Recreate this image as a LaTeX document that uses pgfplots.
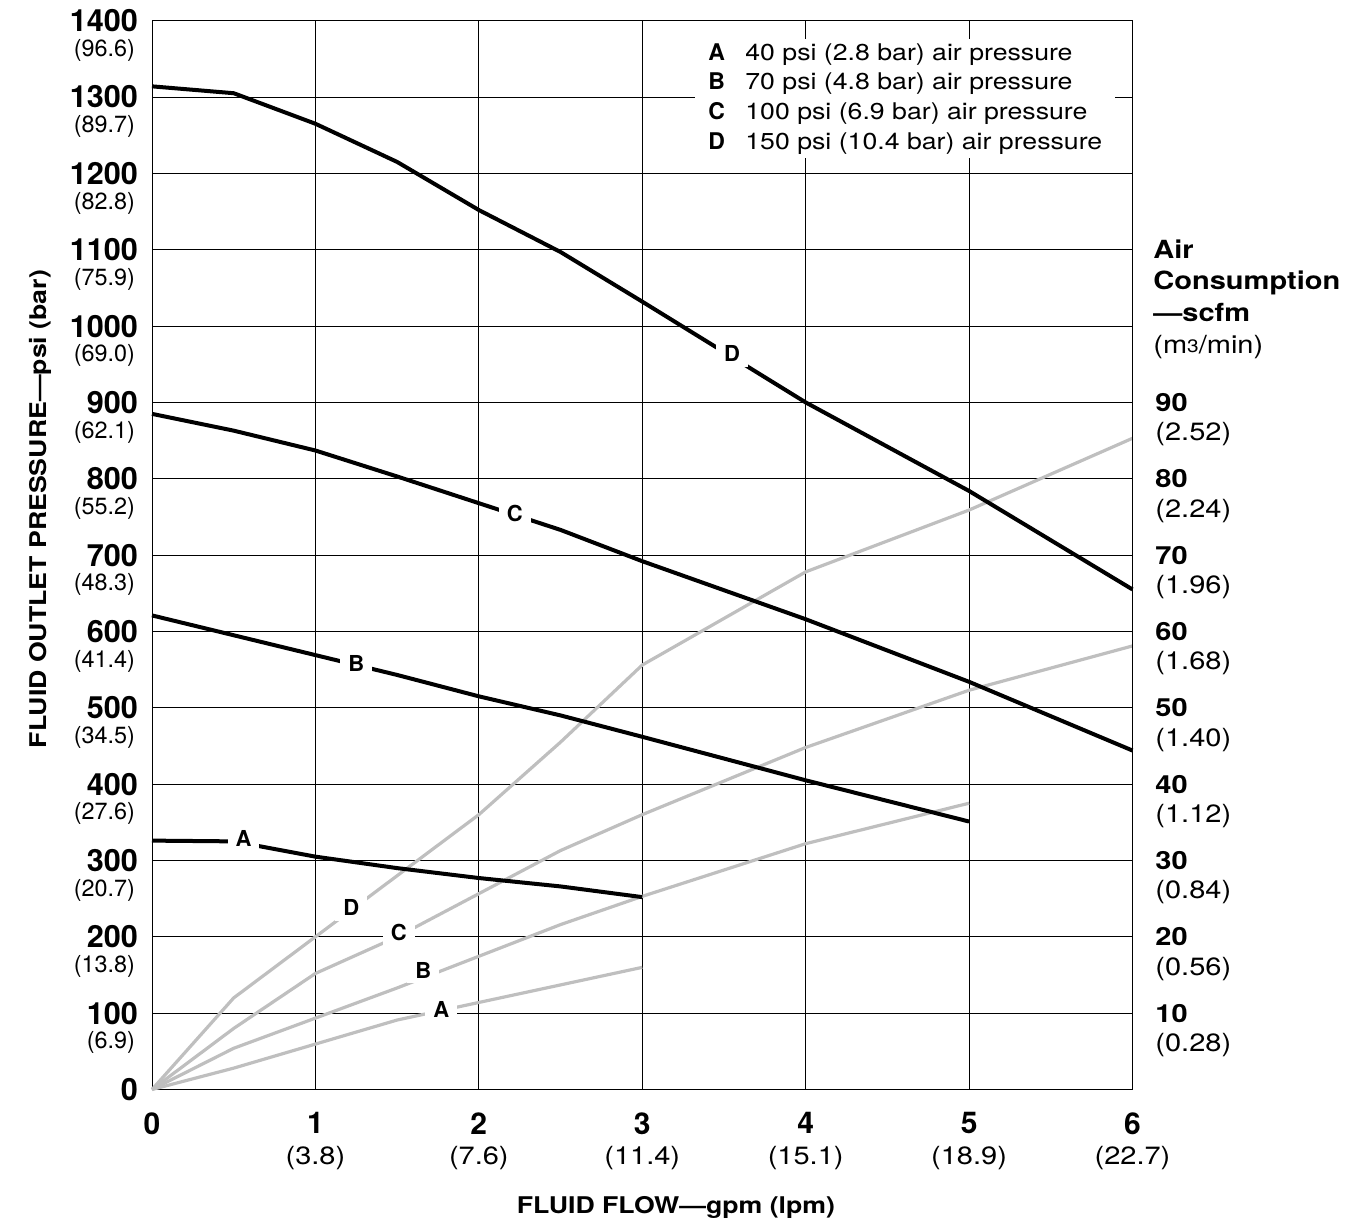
\documentclass[border=0pt]{standalone}
\usepackage{pgfplots}
\usepackage{pgfplotstable}
\pgfplotsset{compat=1.18}
\usepackage{fontspec}
\setmainfont{TeX Gyre Heros}
\newfontfamily\wide[FakeStretch=1.16]{TeX Gyre Heros}
\definecolor{airgray}{rgb}{0.75,0.75,0.75}

% Fluid outlet pressure (psi)
\pgfplotstableread{
x p
0 326
0.5 325
1 305
1.5 290
2 277
2.5 266
3 252
}\presA
\pgfplotstableread{
x p
0 621
0.5 595
1 569
1.5 543
2 515
2.5 490
3 462
4 405
5 351
}\presB
\pgfplotstableread{
x p
0 885
0.5 863
1 837
1.5 803
2 768
2.5 733
3 692
4 616
5 534
6 444
}\presC
\pgfplotstableread{
x p
0 1314
0.5 1305
1 1265
1.5 1215
2 1152
2.5 1097
3 1032
4 900
5 784
6 655
}\presD
% Air consumption (scfm)
\pgfplotstableread{
x q
0 0
0.5 2.8
1.5 9.1
2.5 13.7
3 16.0
}\airA
\pgfplotstableread{
x q
0 0
0.5 5.4
1.5 13.3
2.5 21.6
3 25.3
4 32.2
5 37.5
}\airB
\pgfplotstableread{
x q
0 0
0.5 8.0
1 15.2
1.5 20.0
2.5 31.3
3 36.0
4 44.8
5 52.3
6 58.1
}\airC
\pgfplotstableread{
x q
0 0
0.5 12.0
1 20.0
2 36.0
2.5 45.5
3 55.6
4 67.8
5 75.9
6 85.3
}\airD

\begin{document}
\begin{tikzpicture}
\begin{axis}[
  at={(0,0)}, anchor=south west,
  scale only axis, width=490.25bp, height=534.4bp,
  xmin=0, xmax=6, ymin=0, ymax=1400,
  clip=false,
  xtick={0,1,2,3,4,5,6},
  xticklabels={0,1,2,3,4,5,6},
  ytick={0,100,200,300,400,500,600,700,800,900,1000,1100,1200,1300,1400},
  yticklabels={0,100,200,300,400,500,600,700,800,900,1000,1100,1200,1300,1400},
  grid=major,
  major grid style={black, line width=0.5bp},
  axis line style={black, line width=0.5bp},
  tick style={draw=none},
  xticklabel style={font=\fontsize{15bp}{18bp}\selectfont\bfseries, anchor=north, inner sep=0pt, yshift=-11.25bp},
  yticklabel style={font=\fontsize{15.3bp}{18bp}\selectfont\bfseries, anchor=east, inner sep=0pt, xshift=-6.85bp},
  extra x ticks={1,2,3,4,5,6},
  extra x tick labels={(3.8),(7.6),(11.4),(15.1),(18.9),(22.7)},
  extra x tick style={grid=none, xticklabel style={font=\wide\fontsize{12.5bp}{15bp}\selectfont, anchor=center, yshift=-23.25bp}},
  extra y ticks={61,161,261,361,461,561,661,761,861,961,1061,1161,1261,1361},
  extra y tick labels={(6.9),(13.8),(20.7),(27.6),(34.5),(41.4),(48.3),(55.2),(62.1),(69.0),(75.9),(82.8),(89.7),(96.6)},
  extra y tick style={grid=none, yticklabel style={font=\fontsize{11.7bp}{14bp}\selectfont, xshift=-1.5bp}},
  xlabel={FLUID FLOW—gpm (lpm)},
  xlabel style={at={(axis description cs:0.5344,-0.1102)}, anchor=center, font=\wide\fontsize{11.5bp}{14bp}\selectfont\bfseries},
  ylabel={FLUID OUTLET PRESSURE—psi (bar)},
  ylabel style={at={(axis description cs:-0.1142,0.5431)}, anchor=center, font=\wide\fontsize{11.5bp}{14bp}\selectfont\bfseries},
]
% air consumption curves (scfm, 10 scfm = 100 psi on the grid)
\addplot[airgray, line width=1.6bp, line join=round] table[x=x, y expr=\thisrow{q}*10] {\airA};
\addplot[airgray, line width=1.6bp, line join=round] table[x=x, y expr=\thisrow{q}*10] {\airB};
\addplot[airgray, line width=1.6bp, line join=round] table[x=x, y expr=\thisrow{q}*10] {\airC};
\addplot[airgray, line width=1.6bp, line join=round] table[x=x, y expr=\thisrow{q}*10] {\airD};
\begin{scope}[every node/.style={fill=white, inner xsep=4bp, inner ysep=2.5bp, font=\fontsize{11bp}{13bp}\selectfont\bfseries}]
\node at (axis cs:1.22,238) {D};
\node at (axis cs:1.51,206) {C};
\node at (axis cs:1.66,156) {B};
\node at (axis cs:1.77,105) {A};
\end{scope}
% fluid outlet pressure curves
\addplot[black, line width=2bp, line join=round] table[x=x, y=p] {\presA};
\addplot[black, line width=2bp, line join=round] table[x=x, y=p] {\presB};
\addplot[black, line width=2bp, line join=round] table[x=x, y=p] {\presC};
\addplot[black, line width=2bp, line join=round] table[x=x, y=p] {\presD};
\begin{scope}[every node/.style={fill=white, inner xsep=4bp, inner ysep=2.5bp, font=\fontsize{11bp}{13bp}\selectfont\bfseries}]
\node at (axis cs:3.55,964) {D};
\node at (axis cs:2.22,754) {C};
\node at (axis cs:1.25,558) {B};
\node at (axis cs:0.56,329) {A};
\end{scope}
% legend
\node[fill=white, anchor=north west, inner xsep=6.5bp, inner ysep=2bp, align=left,
      font=\fontsize{11.5bp}{14.85bp}\selectfont]
  at (rel axis cs:0.5538,0.9829)
  {\makebox[18.5bp][l]{\bfseries A}{\wide 40 psi (2.8 bar) air pressure}\\
   \makebox[18.5bp][l]{\bfseries B}{\wide 70 psi (4.8 bar) air pressure}\\
   \makebox[18.5bp][l]{\bfseries C}{\wide 100 psi (6.9 bar) air pressure}\\
   \makebox[18.5bp][l]{\bfseries D}{\wide 150 psi (10.4 bar) air pressure}};
\end{axis}

% right axis: air consumption
\begin{axis}[
  at={(0,0)}, anchor=south west,
  scale only axis, width=490.25bp, height=534.4bp,
  xmin=0, xmax=6, ymin=0, ymax=140,
  axis x line=none, axis y line*=right,
  axis line style={black, line width=0.5bp},
  tick style={draw=none},
  ytick={10,20,30,40,50,60,70,80,90},
  yticklabels={10,20,30,40,50,60,70,80,90},
  yticklabel style={font=\wide\fontsize{12.5bp}{15bp}\selectfont\bfseries, anchor=west, inner sep=0pt, xshift=11.25bp},
  extra y ticks={5.8,15.8,25.8,35.8,45.8,55.8,65.8,75.8,85.8},
  extra y tick labels={(0.28),(0.56),(0.84),(1.12),(1.40),(1.68),(1.96),(2.24),(2.52)},
  extra y tick style={grid=none, yticklabel style={font=\wide\fontsize{12.5bp}{15bp}\selectfont}},
]
\end{axis}

\node[anchor=north west, inner sep=0pt, align=left, font=\wide\fontsize{12.5bp}{15.85bp}\selectfont]
  at (500.5bp,425.25bp)
  {{\bfseries Air}\\{\bfseries Consumption}\\{\bfseries —scfm}\\(m\raisebox{0.5bp}{\fontsize{9bp}{10bp}\selectfont 3}/min)};

\pgfresetboundingbox
\path[use as bounding box] (-76bp,-67.25bp) rectangle (603bp,544.75bp);
\end{tikzpicture}
\end{document}
